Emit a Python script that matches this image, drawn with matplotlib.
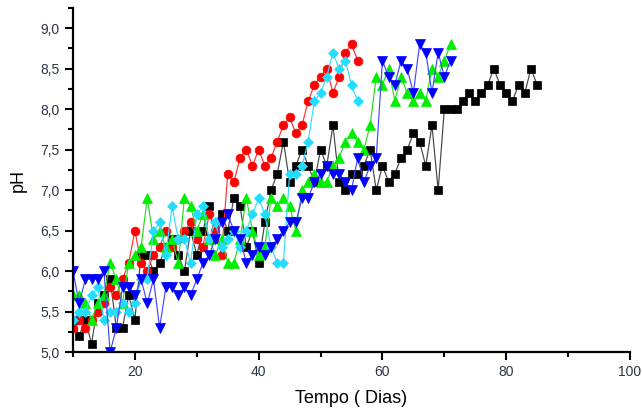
import numpy as np
import matplotlib
matplotlib.use("Agg")
import matplotlib.pyplot as plt
from matplotlib.ticker import FuncFormatter, MultipleLocator

plt.rcParams['font.family'] = ['Liberation Sans', 'DejaVu Sans']

black_start = 10
black_vals = [5.4, 5.2, 5.4, 5.1, 5.6, 5.7, 5.9, 5.3, 5.3, 5.7, 5.4, 6.2, 6.2, 6.0, 6.1, 6.3,
              6.4, 6.2, 6.0, 6.5, 6.2, 6.5, 6.8, 6.4, 6.7, 6.5, 6.9, 6.8, 6.3, 6.5, 6.1, 6.6,
              7.0, 7.2, 7.6, 7.1, 7.3, 7.5, 7.3, 7.1, 7.5, 7.3, 7.8, 7.1, 7.0, 7.2, 7.2, 7.3,
              7.5, 7.0, 7.3, 7.1, 7.2, 7.4, 7.5, 7.7, 7.6, 7.3, 7.8, 7.0, 8.0, 8.0, 8.0, 8.1,
              8.2, 8.1, 8.2, 8.3, 8.5, 8.3, 8.2, 8.1, 8.3, 8.2, 8.5, 8.3]

red_start = 10
red_vals = [5.3, 5.4, 5.3, 5.4, 5.5, 5.6, 5.8, 5.7, 5.9, 6.1, 6.5, 6.1, 6.0, 6.2, 6.3, 6.5,
            6.3, 6.4, 6.5, 6.6, 6.4, 6.3, 6.7, 6.5, 6.2, 7.2, 7.1, 7.4, 7.5, 7.3, 7.5, 7.3,
            7.4, 7.6, 7.8, 7.9, 7.7, 7.8, 8.1, 8.3, 8.4, 8.5, 8.2, 8.4, 8.7, 8.8, 8.6]

green_start = 10
green_vals = [5.7, 5.7, 5.6, 5.4, 5.6, 5.7, 6.1, 5.9, 5.6, 6.1, 6.2, 6.3, 6.9, 6.4, 6.5, 6.3,
              6.4, 6.1, 6.9, 6.8, 6.5, 6.7, 6.4, 6.2, 6.4, 6.1, 6.1, 6.4, 6.9, 6.5, 6.2, 6.3,
              6.9, 6.8, 6.9, 6.8, 6.5, 7.0, 7.1, 7.2, 7.1, 7.1, 7.3, 7.4, 7.6, 7.7, 7.6, 7.5,
              7.8, 8.4, 8.3, 8.5, 8.1, 8.4, 8.2, 8.1, 8.2, 8.1, 8.5, 8.4, 8.6, 8.8]

cyan_start = 10
cyan_vals = [5.4, 5.5, 5.5, 5.7, 5.8, 5.4, 5.5, 5.5, 5.6, 5.5, 5.6, 5.9, 5.9, 6.5, 6.6, 6.2,
             6.8, 6.4, 6.4, 6.1, 6.7, 6.8, 6.4, 6.6, 6.3, 6.4, 6.5, 6.3, 6.5, 6.7, 6.9, 6.7,
             6.3, 6.1, 6.1, 7.2, 7.2, 7.3, 7.6, 8.1, 8.2, 8.4, 8.7, 8.5, 8.6, 8.3, 8.1]

blue_start = 10
blue_vals = [6.0, 5.6, 5.9, 5.9, 5.9, 6.0, 5.0, 5.3, 5.8, 5.8, 5.7, 5.9, 5.6, 5.9, 5.3, 5.8,
             5.8, 5.7, 5.8, 5.7, 5.9, 6.1, 6.2, 6.4, 6.6, 6.7, 6.5, 6.4, 6.1, 6.2, 6.3, 6.2,
             6.3, 6.4, 6.5, 6.6, 6.6, 6.9, 6.9, 7.1, 7.2, 7.3, 7.2, 7.2, 7.1, 7.0, 7.4, 7.1,
             7.3, 7.4, 8.6, 8.4, 8.3, 8.6, 8.5, 8.2, 8.8, 8.7, 8.2, 8.7, 8.4, 8.6]

x_label = "Tempo ( Dias)"
y_label = "pH"

series = [
    (black_start, black_vals, '#000000', '#444444', 's', 5.8),
    (red_start, red_vals, '#ff0000', '#ff3030', 'o', 6.3),
    (green_start, green_vals, '#00ee00', '#22dd22', '^', 7.2),
    (cyan_start, cyan_vals, '#22ddff', '#33ddff', 'D', 5.6),
    (blue_start, blue_vals, '#0000ff', '#4444ff', 'v', 7.2),
]

fig = plt.figure(figsize=(6.42, 4.09), dpi=100)
ax = fig.add_axes([73/642, 57/409, (630-73)/642, (352-8)/409])

for start, vals, mc, lc, mk, ms in series:
    x = np.arange(start, start + len(vals))
    ax.plot(x, vals, color=lc, lw=0.85, marker=mk, markersize=ms,
            markerfacecolor=mc, markeredgecolor=mc, markeredgewidth=0.5)

ax.set_xlim(10, 100)
ax.set_ylim(5.0, 9.25)
ax.xaxis.set_major_locator(MultipleLocator(20))
ax.xaxis.set_minor_locator(MultipleLocator(10))
ax.yaxis.set_major_locator(MultipleLocator(0.5))
ax.yaxis.set_minor_locator(MultipleLocator(0.25))
ax.yaxis.set_major_formatter(FuncFormatter(lambda v, p: f"{v:.1f}".replace('.', ',')))

for s in ['top', 'right']:
    ax.spines[s].set_visible(False)
for s in ['left', 'bottom']:
    ax.spines[s].set_linewidth(1.6)

ax.tick_params(axis='both', which='major', direction='out', length=6, width=1.5,
               labelsize=10, labelcolor='#2a3545')
ax.tick_params(axis='both', which='minor', direction='out', length=3.5, width=1.5)

ax.set_xlabel(x_label, fontsize=13, labelpad=8)
ax.set_ylabel(y_label, fontsize=13, labelpad=10)

fig.savefig("out.png", dpi=100)
